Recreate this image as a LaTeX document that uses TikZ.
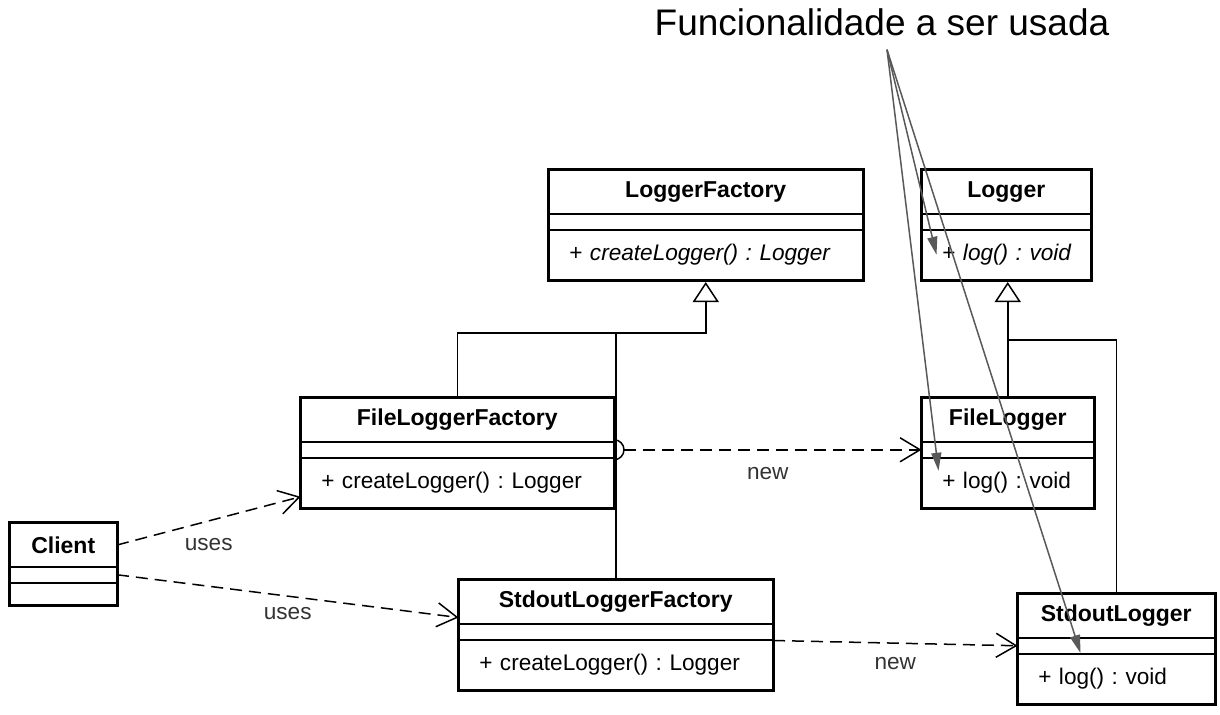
\documentclass[tikz,border=0pt]{standalone}
\usepackage{fontspec}
\setmainfont{Liberation Sans}
\usepackage{xcolor}
\usepackage{tikz}
\usetikzlibrary{matrix,arrows.meta}
\frenchspacing

\begin{document}
\begin{tikzpicture}[x=0.5pt,y=-0.5pt,
	umlclass/.style={matrix of nodes, draw, line width=1.5pt, inner sep=0pt, anchor=north west,
		nodes in empty cells, row sep=-0.75pt,
		nodes={draw, line width=0.75pt, minimum width=#1, inner sep=0pt, font=\fontsize{11.3}{14}\selectfont},
		row 1/.style={nodes={minimum height=21.75pt, font=\fontsize{11.5}{14}\selectfont\bfseries}},
		row 2/.style={nodes={minimum height=8pt}},
		row 3/.style={nodes={minimum height=25pt, text width=#1-20pt, align=left, inner xsep=10pt}}},
	dep/.style={draw, line width=0.75pt, dash pattern=on 6pt off 3.5pt, -{Straight Barb[length=10pt,width=12pt]}},
	inherit/.style={draw, line width=0.75pt, -{Triangle[length=10pt,width=13pt,fill=white]}},
	note/.style={draw=black!65, line width=0.75pt, -{Triangle[length=9pt,width=5pt,fill=black!65]}},
	lbl/.style={font=\fontsize{11.3}{14}\selectfont, text=black!80}]
	\useasboundingbox (0,0) rectangle (1220,714);

	% classes
	\matrix (lf) [umlclass=156.5pt] at (547,168) {
		LoggerFactory \\
		\\
		+ \textit{createLogger() : Logger} \\
	};
	\matrix (lg) [umlclass=84pt] at (920,168) {
		Logger \\
		\\
		+~\textit{log()~:~void} \\
	};
	\matrix (flf) [umlclass=156pt] at (299,396) {
		FileLoggerFactory \\
		\\
		+ createLogger() : Logger \\
	};
	\matrix (fl) [umlclass=85.5pt] at (920,396) {
		FileLogger \\
		\\
		+ log() : void \\
	};
	\matrix (slf) [umlclass=156.5pt] at (457,578) {
		StdoutLoggerFactory \\
		\\
		+ createLogger() : Logger \\
	};
	\matrix (sl) [umlclass=98pt] at (1016,592) {
		StdoutLogger \\
		\\
		+ log() : void \\
	};
	\matrix (cl) [umlclass=53pt, row 3/.append style={nodes={minimum height=11pt}}] at (8,521) {
		Client \\
		\\
		\\
	};

	% generalization
	\draw[inherit] (flf.north) |- ([yshift=-25.5pt]lf.south) -- (lf.south);
	\draw[line width=0.75pt] (slf.north) |- ([yshift=-25.5pt]lf.south);
	\draw[inherit] (fl.north) -- (fl.north |- lg.south);
	\draw[line width=0.75pt] (sl.north) |- ([yshift=-29pt]fl.north |- lg.south);

	% dependencies
	\draw[line width=0.75pt] ([yshift=5pt]flf-2-1.east) arc[start angle=90, end angle=-90, radius=5pt];
	\draw[dep, shorten <=5pt] (flf-2-1.east) -- node[lbl, below=5pt] (new1) {new} (fl-2-1.west);
	\draw[dep] (slf-2-1.south east) -- node[lbl, below=3.5pt] (new2) {new} (sl-2-1.west);
	\draw[dep] (cl-1-1.east) -- node[lbl, below=5pt] (uses1) {uses} ([yshift=-7pt]flf-3-1.west);
	\draw[dep] (cl-2-1.east) -- node[lbl, below=2pt] (uses2) {uses} ([yshift=3.5pt]slf-1-1.south west);

	% note
	\node[font=\fontsize{18.5}{22}\selectfont] (title) at (882,22) {Funcionalidade a ser usada};
	\coordinate (notefrom) at ([xshift=2.5pt,yshift=-3.5pt]title.south);
	\draw[note] (notefrom) -- ([xshift=7.5pt]lg-3-1.west);
	\draw[note] (notefrom) -- ([shift={(8.5pt,6pt)}]fl-3-1.west);
	\draw[note] (notefrom) -- ([xshift=31.5pt]sl-3-1.north west);
\end{tikzpicture}
\end{document}
